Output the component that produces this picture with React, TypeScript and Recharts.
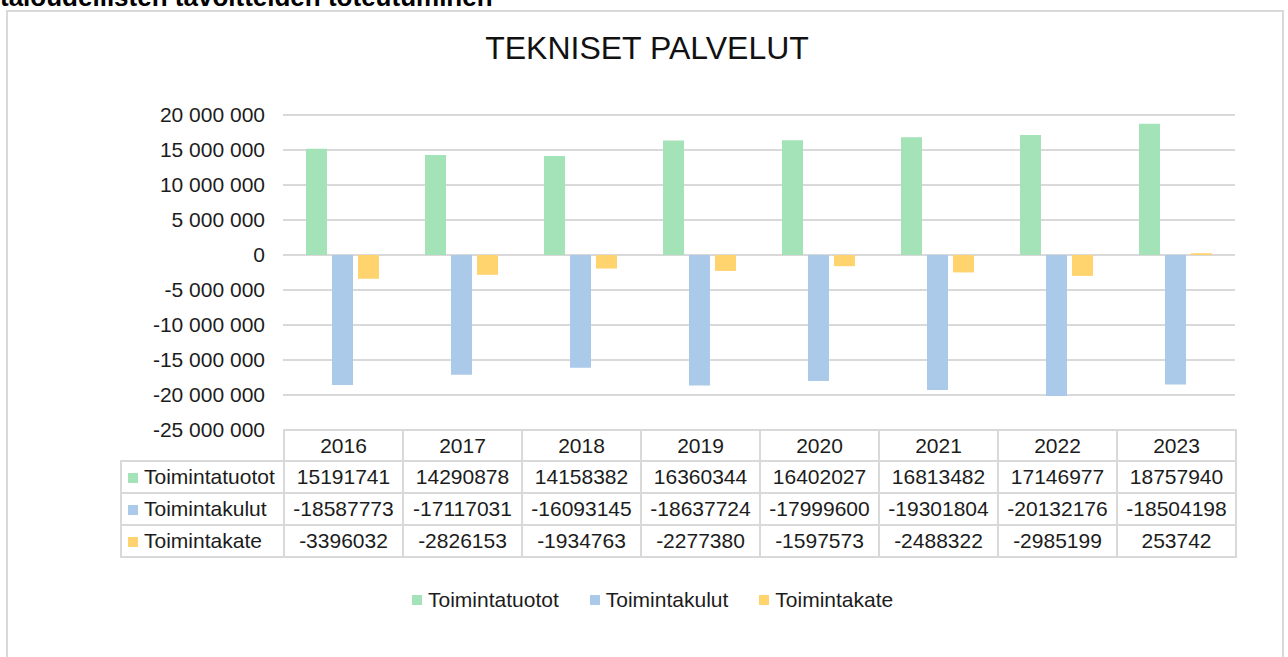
import { BarChart, Bar, XAxis, YAxis, CartesianGrid } from "recharts";

const years = ["2016", "2017", "2018", "2019", "2020", "2021", "2022", "2023"];
const tuotot = [15191741, 14290878, 14158382, 16360344, 16402027, 16813482, 17146977, 18757940];
const kulut = [-18587773, -17117031, -16093145, -18637724, -17999600, -19301804, -20132176, -18504198];
const kate = [-3396032, -2826153, -1934763, -2277380, -1597573, -2488322, -2985199, 253742];
const yTicks = [-25000000, -20000000, -15000000, -10000000, -5000000, 0, 5000000, 10000000, 15000000, 20000000];

const series = [
  { key: "tuotot", name: "Toimintatuotot", values: tuotot },
  { key: "kulut", name: "Toimintakulut", values: kulut },
  { key: "kate", name: "Toimintakate", values: kate },
];

const COLORS: Record<string, string> = {
  tuotot: "#a3e3b7",
  kulut: "#abc9e8",
  kate: "#ffd36e",
};

const FONT = '"Liberation Sans", Arial, sans-serif';
const GRID = "#d9d9d9";
const TEXT = "#1c1c1c";

const PLOT_LEFT = 283;
const PLOT_RIGHT = 1235;
const PLOT_TOP = 115;
const PLOT_BOTTOM = 430;
const LABEL_COL = 163;
const COL_W = (PLOT_RIGHT - PLOT_LEFT) / years.length;

const data = years.map((year, i) => ({
  year,
  tuotot: tuotot[i],
  kulut: kulut[i],
  kate: kate[i],
}));

function spaced(v: number) {
  const s = String(Math.abs(v)).replace(/\B(?=(\d{3})+(?!\d))/g, " ");
  return v < 0 ? "-" + s : s;
}

const cell: React.CSSProperties = {
  border: `2px solid ${GRID}`,
  textAlign: "center",
  padding: 0,
  whiteSpace: "nowrap",
};

export default function App() {
  return (
    <div
      style={{
        position: "absolute",
        left: 0,
        top: 0,
        width: 1288,
        height: 657,
        overflow: "hidden",
        background: "#fff",
        fontFamily: FONT,
        color: TEXT,
      }}
    >
      {/* heading of the page above, mostly scrolled off in the original */}
      <div
        style={{
          position: "absolute",
          left: 0,
          top: -16,
          fontSize: 26,
          lineHeight: "26px",
          fontWeight: "bold",
          color: "#000",
          whiteSpace: "nowrap",
        }}
      >
        taloudellisten tavoitteiden toteutuminen
      </div>
      <div
        style={{
          position: "absolute",
          left: 6,
          top: 10,
          width: 1278,
          height: 700,
          boxSizing: "border-box",
          border: `2px solid ${GRID}`,
        }}
      />
      <div
        style={{
          position: "absolute",
          left: 0,
          top: 30,
          width: 1294,
          textAlign: "center",
          fontSize: 32,
          lineHeight: "36px",
          color: "#111",
        }}
      >
        TEKNISET PALVELUT
      </div>

      <div style={{ position: "absolute", left: 0, top: 0 }}>
        <BarChart
          width={1288}
          height={PLOT_BOTTOM + 20}
          data={data}
          margin={{ top: PLOT_TOP, right: 1288 - PLOT_RIGHT, bottom: 20, left: 0 }}
          barGap={5}
        >
          <CartesianGrid vertical={false} stroke={GRID} strokeWidth={2} />
          <XAxis dataKey="year" hide />
          <YAxis
            width={PLOT_LEFT}
            domain={[-25000000, 20000000]}
            ticks={yTicks}
            interval={0}
            axisLine={false}
            tickLine={false}
            tickMargin={12}
            tickFormatter={spaced}
            tick={{ fill: TEXT, fontSize: 21, fontFamily: FONT }}
          />
          {series.map((s) => (
            <Bar
              key={s.key}
              dataKey={s.key}
              name={s.name}
              fill={COLORS[s.key]}
              barSize={21}
              isAnimationActive={false}
            />
          ))}
        </BarChart>
      </div>

      <table
        style={{
          position: "absolute",
          left: PLOT_LEFT - LABEL_COL,
          top: PLOT_BOTTOM - 1,
          borderCollapse: "collapse",
          tableLayout: "fixed",
          width: LABEL_COL + COL_W * years.length,
          fontSize: 21,
          fontFamily: FONT,
          color: TEXT,
        }}
      >
        <colgroup>
          <col style={{ width: LABEL_COL }} />
          {years.map((y) => (
            <col key={y} style={{ width: COL_W }} />
          ))}
        </colgroup>
        <tbody>
          <tr style={{ height: 31 }}>
            <td style={{ padding: 0, border: "none" }} />
            {years.map((y) => (
              <td key={y} style={cell}>
                {y}
              </td>
            ))}
          </tr>
          {series.map((s) => (
            <tr key={s.key} style={{ height: 32 }}>
              <td style={{ ...cell, textAlign: "left", paddingLeft: 6 }}>
                <span
                  style={{
                    display: "inline-block",
                    width: 10,
                    height: 10,
                    background: COLORS[s.key],
                    marginRight: 6,
                    verticalAlign: "1px",
                  }}
                />
                {s.name}
              </td>
              {s.values.map((v, i) => (
                <td key={years[i]} style={cell}>
                  {v}
                </td>
              ))}
            </tr>
          ))}
        </tbody>
      </table>

      <div
        style={{
          position: "absolute",
          left: 412,
          top: 588,
          display: "flex",
          alignItems: "center",
          gap: 31,
          fontSize: 21,
          lineHeight: "24px",
          whiteSpace: "nowrap",
        }}
      >
        {series.map((s) => (
          <div key={s.key} style={{ display: "flex", alignItems: "center" }}>
            <span
              style={{
                display: "inline-block",
                width: 10,
                height: 10,
                background: COLORS[s.key],
                marginRight: 6,
              }}
            />
            <span>{s.name}</span>
          </div>
        ))}
      </div>
    </div>
  );
}
